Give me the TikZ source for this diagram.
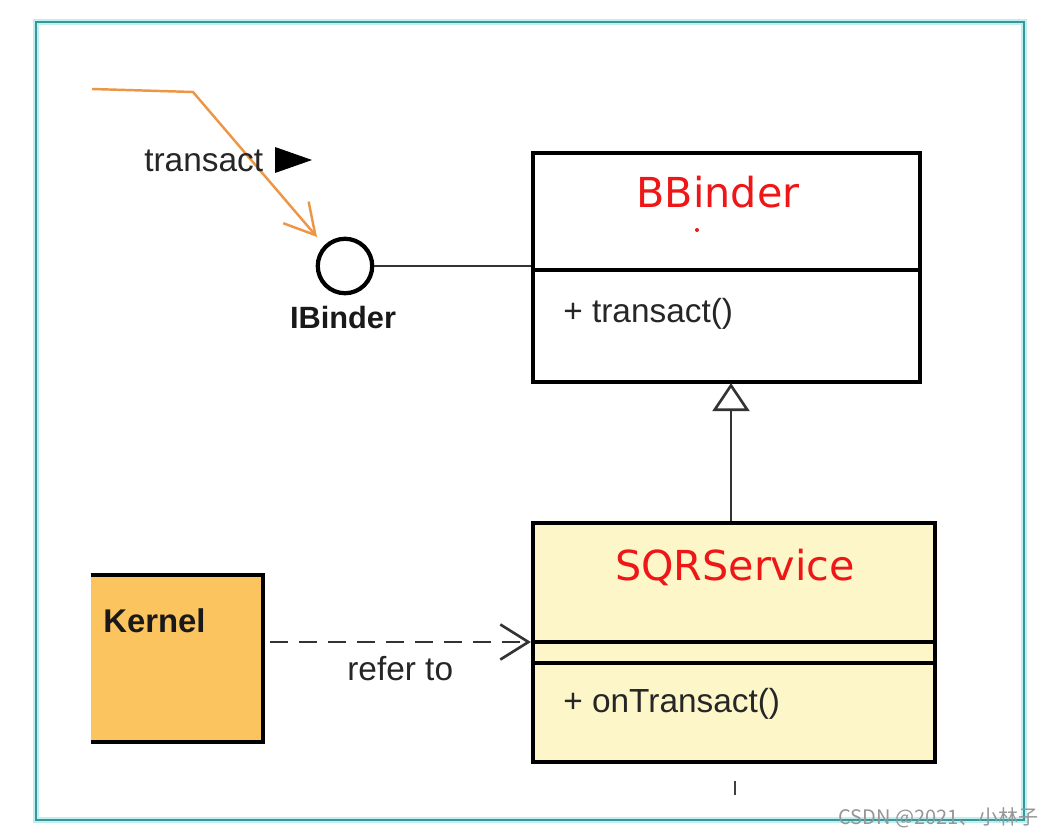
\documentclass[tikz,border=0pt]{standalone}
\usepackage{fontspec}
\setmainfont{Liberation Sans}
\newfontfamily\titlefont{DejaVu Sans}
\newfontfamily\cjkfont{Noto Sans CJK SC}
\usetikzlibrary{arrows.meta,fit}
\definecolor{frameteal}{RGB}{58,150,152}
\definecolor{frameglow}{RGB}{190,240,242}
\definecolor{umlred}{RGB}{238,22,22}
\definecolor{txtgray}{RGB}{38,38,38}
\definecolor{sqrfill}{RGB}{253,246,200}
\definecolor{kernfill}{RGB}{252,196,94}
\definecolor{arrorange}{RGB}{236,150,70}
\definecolor{wmgray}{RGB}{150,150,150}
\begin{document}
\begin{tikzpicture}[x=0.02cm,y=-0.02cm,
  box/.style={draw=black, line width=2.4pt, inner sep=0pt, line join=miter},
  lbl/.style={inner sep=0pt, anchor=base west, text=txtgray, font=\fontsize{19}{22}\selectfont},
  boldlbl/.style={inner sep=0pt, text=black!90, font=\bfseries\fontsize{18.7}{22}\selectfont},
  umltitle/.style={inner sep=0pt, anchor=base, text=umlred, font=\titlefont\fontsize{23.5}{28}\selectfont},
  conn/.style={draw=black!80, line width=1.5pt},
]
\useasboundingbox (0,0) rectangle (1052,838);
\fill[white] (0,0) rectangle (1052,838);
% frame
\draw[frameglow, line width=3pt] (36,22) rectangle (1024,820);
\draw[frameteal, line width=1.1pt] (36,22) rectangle (1024,820);

% BBinder class
\node[box, fit={(533,153)(920,382)}] (bb) {};
\draw[black, line width=2pt] (533,270) -- (920,270);
\node[umltitle] (bbt) at (718,208) {BBinder};
\fill[umlred] (697,230) circle (2);
\node[lbl] (bbm) at (563,322) {+ transact()};

% IBinder interface
\node[circle, draw=black, line width=2.4pt, minimum size=31pt, inner sep=0pt] (ib) at (345,266) {};
\node[boldlbl, anchor=base, font=\bfseries\fontsize{17.5}{21}\selectfont] (ibt) at (343,328) {IBinder};
\draw[conn] (ib.east) -- (ib.east -| bb.west);

% incoming transact call
\coordinate (o1) at (92,89);
\coordinate (o2) at (193,92);
\coordinate (o3) at (317,237);
\draw[arrorange, line width=1.4pt, line join=miter, -{Straight Barb[length=17pt,width=19pt,line width=1.4pt]}] (o1) -- (o2) -- (o3);
\node[lbl] (tr) at (144,172) {transact};
\fill[black] (275,147) -- (312,160) -- (275,173) -- cycle;

% SQRService class
\node[box, fill=sqrfill, fit={(533,523)(935,762)}] (sqr) {};
\draw[black, line width=2pt] (533,642) -- (935,642);
\draw[black, line width=2pt] (533,663) -- (935,663);
\node[umltitle] (sqrt) at (735,580) {SQRService};
\node[lbl] (sqrm) at (563,712) {+ onTransact()};
\draw[black!75, line width=1.4pt] (735,781) -- (735,795);

% generalization
\coordinate (gtop) at (731,383);
\draw[conn, -{Triangle[open, length=16pt, width=21pt, line width=1.5pt, fill=white]}] (gtop |- sqr.north) -- (gtop);

% Kernel
\node[fill=kernfill, inner sep=0pt, fit={(91,575)(263,742)}] (kern) {};
\draw[black, line width=2.4pt, line join=miter] (kern.north west) -- (kern.north east) -- (kern.south east) -- (kern.south west);
\node[boldlbl, anchor=base west] (kt) at (103,632) {Kernel};

% refer to dependency
\coordinate (ks) at (270,642);
\draw[black!80, line width=1.5pt, dash pattern=on 10.5pt off 6pt, -{Straight Barb[length=16pt,width=20pt,line width=1.5pt]}] (ks) -- (ks -| sqr.west);
\node[lbl] (rt) at (347,680) {refer to};

% watermark
\node[inner sep=0pt, anchor=base west, text=wmgray, font=\cjkfont\fontsize{11.4}{13}\selectfont] (wm) at (838,824) {CSDN @2021、小林子};
\end{tikzpicture}
\end{document}
